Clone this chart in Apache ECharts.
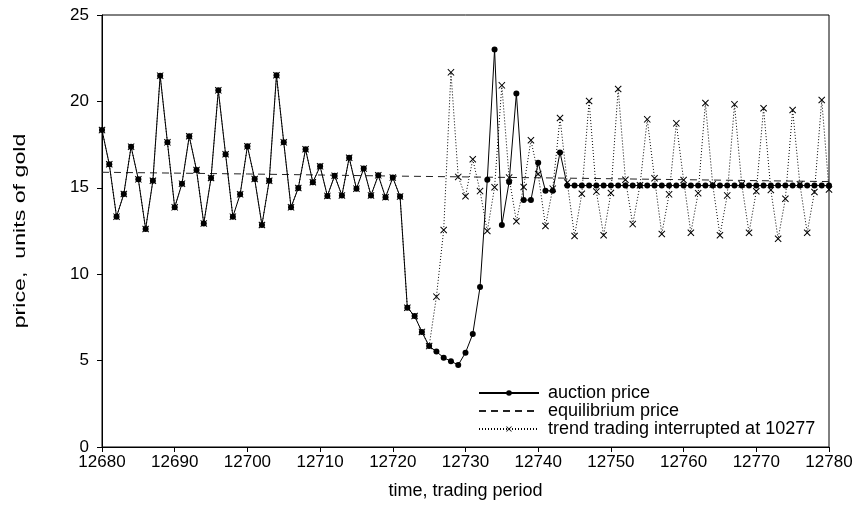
<!DOCTYPE html>
<html>
<head>
<meta charset="utf-8">
<script src="https://cdn.jsdelivr.net/npm/echarts@6/dist/echarts.min.js"></script>
<style>
html,body{margin:0;padding:0;background:#fff;}
#chart{width:861px;height:508px;}
</style>
</head>
<body>
<div id="chart"></div>
<script>
// ---- data ----
const firstPeriod = 12680;
const xTicks = [12680, 12690, 12700, 12710, 12720, 12730, 12740, 12750, 12760, 12770, 12780];
const yTicks = [0, 5, 10, 15, 20, 25];

// auction price, one value per trading period starting at 12680
const auctionPrice = [
  18.34, 16.36, 13.33, 14.64, 17.38, 15.49, 12.62, 15.41, 21.49, 17.63,
  13.87, 15.24, 17.98, 16.03, 12.94, 15.57, 20.64, 16.94, 13.33, 14.62,
  17.40, 15.51, 12.85, 15.41, 21.51, 17.63, 13.87, 14.99, 17.23, 15.32,
  16.24, 14.53, 15.70, 14.56, 16.74, 14.95, 16.11, 14.56, 15.72, 14.45,
  15.59, 14.49, 8.06, 7.58, 6.66, 5.84, 5.52, 5.17, 4.96, 4.75,
  5.46, 6.54, 9.26, 15.47, 23.01, 12.85, 15.34, 20.45, 14.29, 14.29,
  16.45, 14.83, 14.83, 17.05, 15.13, 15.13, 15.13, 15.13, 15.13, 15.13,
  15.13, 15.13, 15.13, 15.13, 15.13, 15.13, 15.13, 15.13, 15.13, 15.13,
  15.13, 15.13, 15.13, 15.13, 15.13, 15.13, 15.13, 15.13, 15.13, 15.13,
  15.13, 15.13, 15.13, 15.13, 15.13, 15.13, 15.13, 15.13, 15.13, 15.13,
  15.13
];

// trend trading run: identical to the auction price up to this period, then its own values
const trendSplitPeriod = 12725;
const trendPrice = [
  8.70, 12.56, 21.68, 15.63, 14.51, 16.65, 14.81, 12.50, 15.03, 20.93,
  15.59, 13.06, 15.05, 17.75, 15.80, 12.79, 14.95, 19.04, 15.30, 12.21,
  14.66, 20.02, 14.78, 12.25, 14.70, 20.72, 15.47, 12.90, 15.15, 18.96,
  15.55, 12.33, 14.62, 18.73, 15.45, 12.40, 14.69, 19.91, 15.20, 12.25,
  14.56, 19.83, 15.20, 12.40, 14.80, 19.60, 14.87, 12.05, 14.37, 19.50,
  15.20, 12.40, 14.76, 20.08, 14.90
];

// equilibrium price readings
const eqPeriods = [12680, 12700, 12720, 12740, 12760, 12780];
const eqPrice = [15.90, 15.80, 15.68, 15.58, 15.47, 15.36];

// ---- build series data ----
const auctionData = auctionPrice.map((v, i) => [firstPeriod + i, v]);
const nShared = trendSplitPeriod - firstPeriod + 1;
const trendData = auctionData.slice(0, nShared)
  .concat(trendPrice.map((v, i) => [trendSplitPeriod + 1 + i, v]));
const eqData = eqPeriods.map((p, i) => [p, eqPrice[i]]);

const FONT = 'Liberation Sans, Arial, sans-serif';
const crossPath = 'path://M0,1L1,0L5,4L9,0L10,1L6,5L10,9L9,10L5,6L1,10L0,9L4,5Z';

const chart = echarts.init(document.getElementById('chart'), null, {renderer: 'canvas'});
chart.setOption({
  animation: false,
  backgroundColor: '#fff',
  grid: {
    left: 102, right: 32, top: 15, bottom: 61,
    show: true, borderColor: '#000', borderWidth: 1, backgroundColor: 'transparent'
  },
  graphic: [{
    type: 'text',
    x: 21, y: 231,
    rotation: Math.PI / 2,
    scaleX: 1.45,
    style: {
      text: 'price,  units of gold',
      fontFamily: FONT, fontSize: 16, fill: '#000',
      align: 'center', verticalAlign: 'middle',
      textAlign: 'center', textVerticalAlign: 'middle'
    }
  }],
  xAxis: {
    type: 'value',
    min: xTicks[0], max: xTicks[xTicks.length - 1], interval: 10,
    name: 'time, trading period', nameLocation: 'middle', nameGap: 35,
    nameTextStyle: {fontFamily: FONT, fontSize: 18, color: '#000'},
    axisLine: {show: true, lineStyle: {color: '#000', width: 1}},
    axisTick: {show: true, length: 5, lineStyle: {color: '#000'}},
    axisLabel: {fontFamily: FONT, fontSize: 17, color: '#000', margin: 7,
      formatter: v => xTicks.includes(v) ? String(v) : ''},
    splitLine: {show: false}
  },
  yAxis: {
    type: 'value',
    min: yTicks[0], max: yTicks[yTicks.length - 1], interval: 5,
    axisLine: {show: true, lineStyle: {color: '#000', width: 1}},
    axisTick: {show: true, length: 5, lineStyle: {color: '#000'}},
    axisLabel: {fontFamily: FONT, fontSize: 17, color: '#000', margin: 13},
    splitLine: {show: false}
  },
  legend: {
    orient: 'vertical',
    left: 478, top: 384, padding: 0,
    itemWidth: 60, itemHeight: 7, itemGap: 0,
    textStyle: {fontFamily: FONT, fontSize: 18, color: '#000', lineHeight: 17, padding: [0, 0, 0, 4]},
    data: [
      {name: 'auction price'},
      {name: 'equilibrium price', itemStyle: {opacity: 0}},
      {name: 'trend trading interrupted at 10277'}
    ]
  },
  series: [
    {
      name: 'trend trading interrupted at 10277',
      type: 'line', data: trendData, z: 2,
      symbol: crossPath, symbolSize: 7, showSymbol: true,
      lineStyle: {color: '#000', width: 1, type: [1, 2]},
      itemStyle: {color: '#000'}
    },
    {
      name: 'equilibrium price',
      type: 'line', data: eqData, z: 3,
      symbol: 'none',
      lineStyle: {color: '#222', width: 1, type: [7, 5]},
      itemStyle: {color: '#222'}
    },
    {
      name: 'auction price',
      type: 'line', data: auctionData, z: 4,
      symbol: 'circle', symbolSize: 6, showSymbol: true,
      lineStyle: {color: '#000', width: 1, type: 'solid'},
      itemStyle: {color: '#000'}
    }
  ]
});
</script>
</body>
</html>
